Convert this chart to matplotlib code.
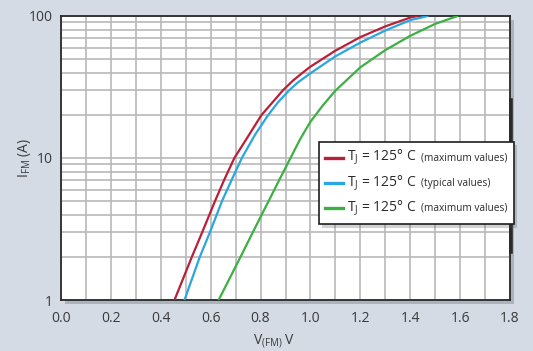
import matplotlib
matplotlib.use("Agg")
import matplotlib.pyplot as plt
from matplotlib.ticker import FixedLocator, NullFormatter, MultipleLocator
from matplotlib.offsetbox import DrawingArea, TextArea, HPacker, VPacker, AnchoredOffsetbox
from matplotlib.lines import Line2D
import matplotlib.patheffects as pe

# ---- data ----
red_v = [0.455, 0.524, 0.566, 0.618, 0.654, 0.695, 0.750, 0.803, 0.850, 0.890, 0.930, 0.965, 1.000, 1.100, 1.200, 1.300, 1.400, 1.430]
red_i = [1, 2, 3, 5, 7, 10, 14.2, 20, 24.9, 30, 35.1, 39.4, 44, 57, 71, 84.5, 97.5, 100]

blue_v = [0.495, 0.556, 0.597, 0.646, 0.684, 0.725, 0.780, 0.830, 0.870, 0.915, 0.950, 1.000, 1.100, 1.200, 1.300, 1.400, 1.470]
blue_i = [1, 2, 3, 5, 7, 10, 14.8, 20, 24.7, 30, 34.1, 39.5, 52, 65, 79, 93.5, 100]

green_v = [0.632, 0.719, 0.769, 0.833, 0.875, 0.920, 0.960, 1.000, 1.050, 1.100, 1.200, 1.300, 1.400, 1.500, 1.590]
green_i = [1, 2, 3, 5, 7, 10, 13.7, 18, 23.5, 29.8, 43.5, 57.5, 72.5, 88, 100]

series_main = ["T$_{\\mathregular{J}}$ = 125° C"] * 3
series_sub = ["(maximum values)", "(typical values)", "(maximum values)"]
series_colors = ["#b8203a", "#2aa6e0", "#3cb043"]

x_ticks = [0.0, 0.2, 0.4, 0.6, 0.8, 1.0, 1.2, 1.4, 1.6, 1.8]
x_tick_labels = ["0.0", "0.2", "0.4", "0.6", "0.8", "1.0", "1.2", "1.4", "1.6", "1.8"]
y_ticks = [1, 10, 100]
y_tick_labels = ["1", "10", "100"]

plt.rcParams['font.family'] = ['Open Sans', 'DejaVu Sans']

W, H = 533, 351
fig = plt.figure(figsize=(W / 100, H / 100), dpi=100)
fig.patch.set_facecolor("#d4dbe4")

ax = fig.add_axes([61 / W, 51 / H, 449 / W, 284 / H])
ax.set_facecolor("white")
ax.patch.set_path_effects([pe.SimplePatchShadow(offset=(3, -3), shadow_rgbFace="#000000", alpha=0.18), pe.Normal()])

ax.set_yscale("log")
ax.set_xlim(0, 1.8)
ax.set_ylim(1, 100)

for v, i, c in zip([red_v, blue_v, green_v], [red_i, blue_i, green_i], series_colors):
    ax.plot(v, i, color=c, lw=1.6, solid_capstyle="round", solid_joinstyle="round", zorder=3)

ax.xaxis.set_major_locator(FixedLocator(x_ticks))
ax.set_xticklabels(x_tick_labels)
ax.xaxis.set_minor_locator(MultipleLocator(0.1))
ax.yaxis.set_major_locator(FixedLocator(y_ticks))
ax.set_yticklabels(y_tick_labels)
ax.yaxis.set_minor_locator(FixedLocator([m * d for d in (1, 10) for m in range(2, 10)]))
ax.yaxis.set_minor_formatter(NullFormatter())

ax.grid(True, which="both", color="#b9b9b9", lw=1.2)
ax.set_axisbelow(True)
ax.tick_params(which="both", length=0, labelsize=10, labelcolor="#3a3a3a")
ax.tick_params(axis="x", pad=8)
ax.tick_params(axis="y", pad=6)

for s in ax.spines.values():
    s.set_color("#2a2a2a")
    s.set_linewidth(1.3)

ax.set_xlabel("V$_{\\mathregular{(FM)}}$ V", fontsize=10, color="#3a3a3a")
ax.xaxis.set_label_coords(0.475, -0.115)
ax.set_ylabel("I$_{\\mathregular{FM}}$ (A)", fontsize=10, color="#3a3a3a")
ax.yaxis.set_label_coords(-0.062, 0.5)

# darker segment on right frame
fig.add_artist(Line2D([510.5 / W, 510.5 / W], [(H - 252) / H, (H - 100) / H],
                      color="#2a2a2a", lw=2.6, transform=fig.transFigure))

# ---- legend ----
rows = []
for main, sub, c in zip(series_main, series_sub, series_colors):
    da = DrawingArea(13, 8, 0, 0)
    da.add_artist(Line2D([0, 13], [4, 4], color=c, lw=2.4))
    t1 = TextArea(main, textprops=dict(size=10, color="#2a2a2a"))
    t2 = TextArea(sub, textprops=dict(size=7.3, color="#2a2a2a"))
    rows.append(HPacker(children=[da, t1, t2], align="center", pad=0, sep=3))
box = VPacker(children=rows, align="left", pad=0, sep=4.5)
anch = AnchoredOffsetbox(loc="upper left", child=box, pad=0.45, frameon=True,
                         bbox_to_anchor=(319 / W, 1 - 142 / H), bbox_transform=fig.transFigure,
                         borderpad=0)
anch.patch.set_boxstyle("square", pad=0)
anch.patch.set_edgecolor("#1e1e1e")
anch.patch.set_linewidth(1.2)
anch.patch.set_path_effects([pe.SimplePatchShadow(offset=(2.5, -2.5), alpha=0.25), pe.Normal()])
anch.set_zorder(5)
fig.add_artist(anch)

fig.savefig("out.png", dpi=100, facecolor=fig.get_facecolor())
